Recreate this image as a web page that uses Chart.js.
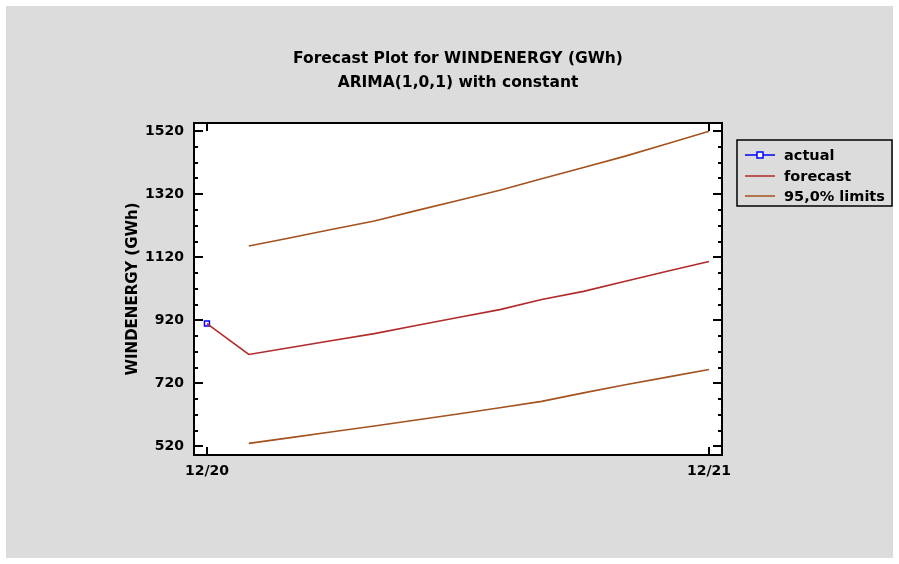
<!DOCTYPE html>
<html>
<head>
<meta charset="utf-8">
<script src="https://cdn.jsdelivr.net/npm/chart.js@4.4.1/dist/chart.umd.min.js"></script>
<style>
  html, body { margin: 0; padding: 0; background: #ffffff; }
  #wrap { width: 899px; height: 564px; }
</style>
</head>
<body>
<div id="wrap"><canvas id="c" width="899" height="564"></canvas></div>
<script>
// Months from 12/20 (0) to 12/21 (12)
const months = [0, 1, 2, 3, 4, 5, 6, 7, 8, 9, 10, 11, 12];
const actualValues = [910];
const forecastValues = [910, 812, 834, 856, 878, 904, 929, 954, 986, 1012, 1044, 1076, 1107];
const upperLimits = [null, 1156, 1182, 1209, 1235, 1268, 1300, 1333, 1369, 1405, 1441, 1480, 1520];
const lowerLimits = [null, 530, 548, 567, 585, 604, 623, 643, 663, 690, 716, 740, 764];
const xTickValues = [0, 12];
const xTickLabels = ['12/20', '12/21'];
const yTickValues = [520, 720, 920, 1120, 1320, 1520];
const titleLines = ['Forecast Plot for WINDENERGY (GWh)', 'ARIMA(1,0,1) with constant'];
const yAxisTitle = 'WINDENERGY (GWh)';
const legendLabels = ['actual', 'forecast', '95,0% limits'];

const FONT = '"DejaVu Sans", sans-serif';
const BG = '#dcdcdc';
const RED = '#b22a2a';
const BROWN = '#a4521e';
const BLUE = '#0000ff';

const toPoints = vals => vals.map((v, i) => ({ x: months[i], y: v })).filter(p => p.y !== null);

const framePlugin = {
  id: 'frame',
  beforeDraw(chart) {
    const ctx = chart.ctx;
    const a = chart.chartArea;
    ctx.save();
    ctx.fillStyle = '#ffffff';
    ctx.fillRect(0, 0, chart.width, chart.height);
    ctx.fillStyle = BG;
    ctx.fillRect(6, 6, chart.width - 12, chart.height - 12);
    ctx.fillStyle = '#ffffff';
    ctx.fillRect(a.left, a.top, a.right - a.left, a.bottom - a.top);
    ctx.restore();
  },
  afterDraw(chart) {
    const ctx = chart.ctx;
    const a = chart.chartArea;
    const xs = chart.scales.x, ys = chart.scales.y;
    ctx.save();
    // Titles
    ctx.fillStyle = '#000';
    ctx.font = 'bold 15.5px ' + FONT;
    ctx.textAlign = 'center';
    ctx.textBaseline = 'middle';
    const cx = (a.left + a.right) / 2;
    ctx.fillText(titleLines[0], cx, 59);
    ctx.fillText(titleLines[1], cx, 83);

    // Plot frame
    ctx.strokeStyle = '#000';
    ctx.lineWidth = 2;
    ctx.strokeRect(a.left, a.top, a.right - a.left, a.bottom - a.top);

    // Inward tick marks on all four sides
    ctx.lineWidth = 2;
    ctx.beginPath();
    yTickValues.forEach(v => {
      const y = Math.round(ys.getPixelForValue(v));
      ctx.moveTo(a.left, y); ctx.lineTo(a.left + 9, y);
      ctx.moveTo(a.right, y); ctx.lineTo(a.right - 9, y);
      for (let k = 1; k <= 3; k++) {
        const vm = v + 50 * k;
        if (vm < ys.max) {
          const ym = Math.round(ys.getPixelForValue(vm));
          ctx.moveTo(a.left, ym); ctx.lineTo(a.left + 4, ym);
          ctx.moveTo(a.right, ym); ctx.lineTo(a.right - 4, ym);
        }
      }
    });
    xTickValues.forEach(v => {
      const x = Math.round(xs.getPixelForValue(v));
      ctx.moveTo(x, a.bottom); ctx.lineTo(x, a.bottom - 8);
      ctx.moveTo(x, a.top); ctx.lineTo(x, a.top + 8);
    });
    ctx.stroke();

    // Legend box
    const lx = 737, ly = 140, lw = 155, lh = 66;
    ctx.lineWidth = 1.5;
    ctx.strokeRect(lx, ly, lw, lh);
    const rows = [155, 176, 196];
    const colors = [BLUE, RED, BROWN];
    ctx.textAlign = 'left';
    ctx.font = 'bold 14.5px ' + FONT;
    rows.forEach((ry, i) => {
      ctx.strokeStyle = colors[i];
      ctx.lineWidth = 1.5;
      ctx.beginPath();
      ctx.moveTo(745, ry); ctx.lineTo(775, ry);
      ctx.stroke();
      if (i === 0) {
        ctx.fillStyle = '#ffffff';
        ctx.fillRect(757, ry - 3, 6, 6);
        ctx.strokeRect(757, ry - 3, 6, 6);
      }
      ctx.fillStyle = '#000';
      ctx.fillText(legendLabels[i], 784, ry + 1);
    });
    ctx.restore();
  }
};

new Chart(document.getElementById('c'), {
  type: 'line',
  data: {
    datasets: [
      {
        label: legendLabels[2],
        data: toPoints(upperLimits),
        borderColor: BROWN, borderWidth: 1.6, pointRadius: 0, tension: 0
      },
      {
        label: legendLabels[2] + ' (lower)',
        data: toPoints(lowerLimits),
        borderColor: BROWN, borderWidth: 1.6, pointRadius: 0, tension: 0
      },
      {
        label: legendLabels[1],
        data: toPoints(forecastValues),
        borderColor: RED, borderWidth: 1.6, pointRadius: 0, tension: 0
      },
      {
        label: legendLabels[0],
        data: toPoints(actualValues),
        borderColor: BLUE, borderWidth: 1.5,
        pointStyle: 'rect', pointRadius: 3.5,
        pointBackgroundColor: '#ffffff', pointBorderColor: BLUE, pointBorderWidth: 1.5
      }
    ]
  },
  options: {
    responsive: false,
    animation: false,
    events: [],
    layout: { padding: { left: 124, top: 123, right: 177, bottom: 79 } },
    plugins: { legend: { display: false }, title: { display: false }, tooltip: { enabled: false } },
    scales: {
      x: {
        type: 'linear', min: -0.31, max: 12.31,
        grid: { display: false, drawTicks: false },
        border: { display: false },
        afterBuildTicks: s => { s.ticks = xTickValues.map(v => ({ value: v })); },
        afterFit: s => { s.height = 30; },
        ticks: {
          padding: 8, color: '#000', maxRotation: 0, autoSkip: false,
          font: { family: FONT, weight: 'bold', size: 14 },
          callback: v => xTickLabels[xTickValues.indexOf(v)]
        }
      },
      y: {
        type: 'linear', min: 493, max: 1546,
        grid: { display: false, drawTicks: false },
        border: { display: false },
        afterBuildTicks: s => { s.ticks = yTickValues.map(v => ({ value: v })); },
        afterFit: s => { s.width = 70; },
        title: {
          display: true, text: yAxisTitle, color: '#000', padding: 0,
          font: { family: FONT, weight: 'bold', size: 15 }
        },
        ticks: {
          padding: 10, color: '#000', autoSkip: false,
          font: { family: FONT, weight: 'bold', size: 14 },
          callback: v => String(v)
        }
      }
    }
  },
  plugins: [framePlugin]
});
</script>
</body>
</html>
